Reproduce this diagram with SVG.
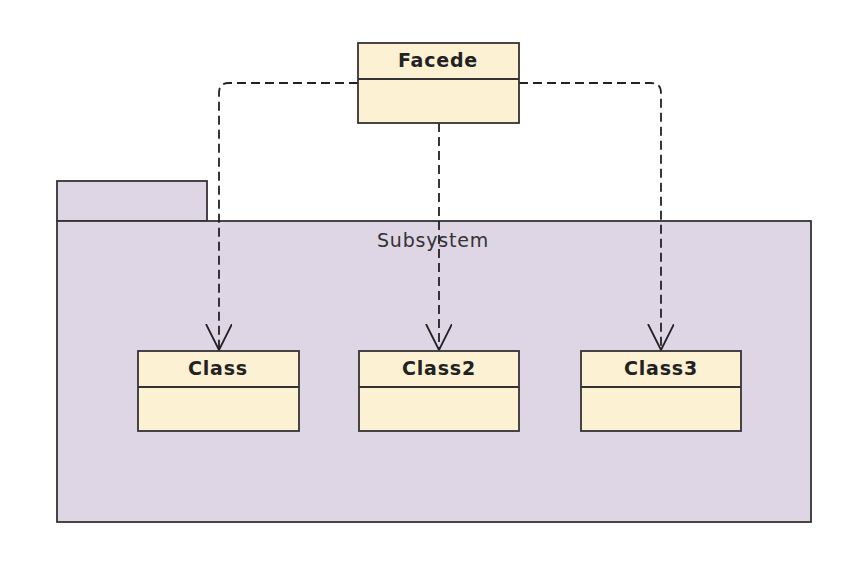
<svg xmlns="http://www.w3.org/2000/svg" width="868" height="564" viewBox="0 0 868 564">
<defs>
<style>
.pkg{fill:#ded6e5;stroke:#333;stroke-width:1.8}
.cls{fill:#fcf1d2;stroke:#333;stroke-width:1.8}
.div{stroke:#333;stroke-width:1.8}
.name{font-family:"DejaVu Sans",Verdana,sans-serif;font-size:19px;font-weight:bold;fill:#222;text-anchor:middle;letter-spacing:0.8px}
.lbl{font-family:"DejaVu Sans",Verdana,sans-serif;font-size:19px;fill:#333;text-anchor:middle;letter-spacing:0.8px}
.dep{fill:none;stroke:#222;stroke-width:1.8;stroke-dasharray:9 5}
</style>
<marker id="open" markerWidth="28" markerHeight="28" refX="26" refY="13" orient="auto" markerUnits="userSpaceOnUse" viewBox="0 0 28 28">
<path d="M0,0 L26,13 L0,26" fill="none" stroke="#222" stroke-width="1.8"/>
</marker>
</defs>
<g id="subsystem">
<rect class="pkg" x="57" y="181" width="150" height="40"/>
<rect class="pkg" x="57" y="221" width="754" height="301"/>
<text class="lbl" x="433" y="247">Subsystem</text>
</g>
<g id="connectors">
<path class="dep" d="M358,83 H229 Q219,83 219,93 V350" marker-end="url(#open)"/>
<path class="dep" d="M439,123 V350" marker-end="url(#open)"/>
<path class="dep" d="M519,83 H651 Q661,83 661,93 V350" marker-end="url(#open)"/>
</g>
<g id="facede">
<rect class="cls" x="358" y="43" width="161" height="80"/>
<line class="div" x1="358" y1="79" x2="519" y2="79"/>
<text class="name" x="438" y="67">Facede</text>
</g>
<g id="class1">
<rect class="cls" x="138" y="351" width="161" height="80"/>
<line class="div" x1="138" y1="387" x2="299" y2="387"/>
<text class="name" x="218" y="375">Class</text>
</g>
<g id="class2">
<rect class="cls" x="359" y="351" width="160" height="80"/>
<line class="div" x1="359" y1="387" x2="519" y2="387"/>
<text class="name" x="439" y="375">Class2</text>
</g>
<g id="class3">
<rect class="cls" x="581" y="351" width="160" height="80"/>
<line class="div" x1="581" y1="387" x2="741" y2="387"/>
<text class="name" x="661" y="375">Class3</text>
</g>
</svg>
